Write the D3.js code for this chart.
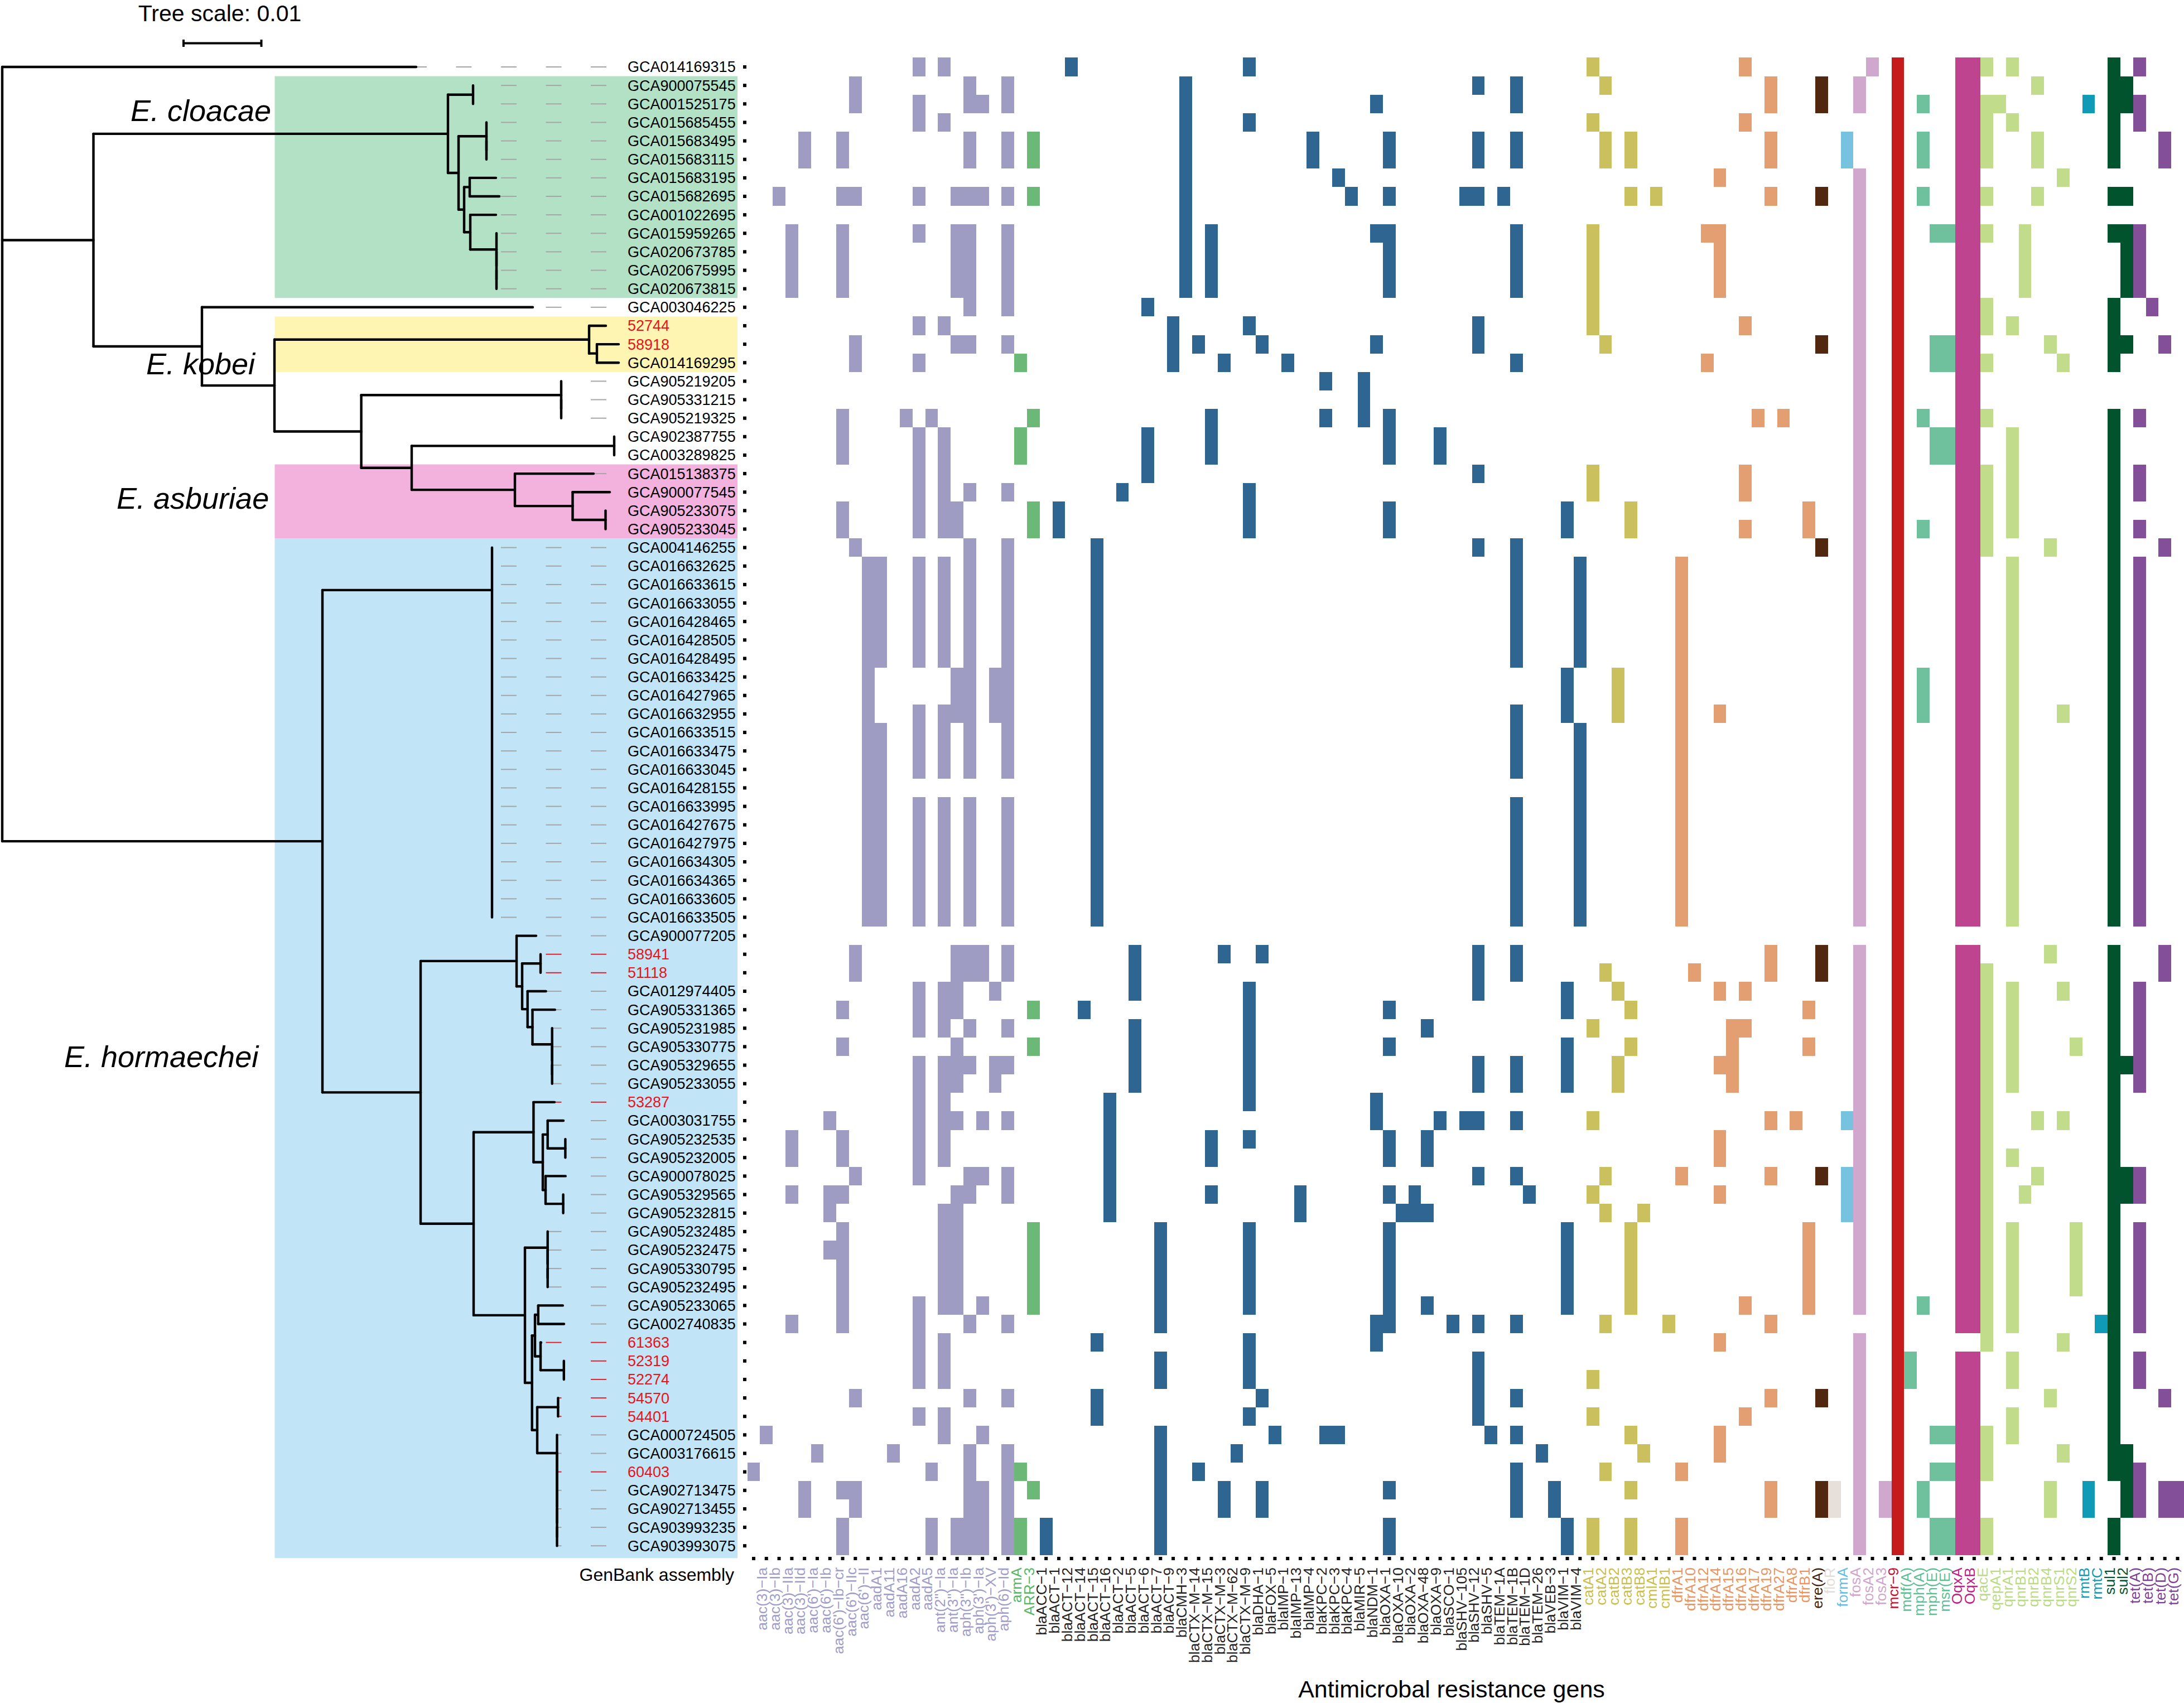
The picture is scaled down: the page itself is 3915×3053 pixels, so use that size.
<!DOCTYPE html>
<html><head><meta charset="utf-8">
<script src="https://cdn.jsdelivr.net/npm/d3@7"></script>
<style>html,body{margin:0;padding:0;background:#fff;overflow:hidden}svg{display:block}text{font-family:"Liberation Sans",Arial,sans-serif}</style>
</head><body><div id="chart"></div>
<script>
// ---------- data ----------
const assemblies = ["GCA014169315","GCA900075545","GCA001525175","GCA015685455","GCA015683495","GCA015683115","GCA015683195","GCA015682695","GCA001022695","GCA015959265","GCA020673785","GCA020675995","GCA020673815","GCA003046225","52744","58918","GCA014169295","GCA905219205","GCA905331215","GCA905219325","GCA902387755","GCA003289825","GCA015138375","GCA900077545","GCA905233075","GCA905233045","GCA004146255","GCA016632625","GCA016633615","GCA016633055","GCA016428465","GCA016428505","GCA016428495","GCA016633425","GCA016427965","GCA016632955","GCA016633515","GCA016633475","GCA016633045","GCA016428155","GCA016633995","GCA016427675","GCA016427975","GCA016634305","GCA016634365","GCA016633605","GCA016633505","GCA900077205","58941","51118","GCA012974405","GCA905331365","GCA905231985","GCA905330775","GCA905329655","GCA905233055","53287","GCA003031755","GCA905232535","GCA905232005","GCA900078025","GCA905329565","GCA905232815","GCA905232485","GCA905232475","GCA905330795","GCA905232495","GCA905233065","GCA002740835","61363","52319","52274","54570","54401","GCA000724505","GCA003176615","60403","GCA902713475","GCA902713455","GCA903993235","GCA903993075"];
const newIsolates = ["52744","58918","58941","51118","53287","61363","52319","52274","54570","54401","60403"];

const M = "\u2212";
const aminoglycosideGenes = ["",`aac(3)${M}Ia`,`aac(3)${M}Ib`,`aac(3)${M}IIa`,`aac(3)${M}IId`,`aac(6')${M}Ia`,`aac(6')${M}Ib`,`aac(6')${M}Ib${M}cr`,`aac(6')${M}IIc`,`aac(6')${M}II`,"aadA1","aadA11","aadA16","aadA2","aadA5",`ant(2'')${M}Ia`,`ant(3'')${M}Ia`,`aph(3'')${M}Ib`,`aph(3')${M}Ia`,`aph(3')${M}XV`,`aph(6)${M}Id`];
const armGenes = ["armA",`ARR${M}3`];
const betaLactamGenes = ["ACC-1","ACT-1","ACT-12","ACT-14","ACT-15","ACT-16","ACT-2","ACT-5","ACT-6","ACT-7","ACT-9","CMH-3","CTX-M-14","CTX-M-15","CTX-M-3","CTX-M-62","CTX-M-9","DHA-1","FOX-5","IMP-1","IMP-13","IMP-4","KPC-2","KPC-3","KPC-4","MIR-5","NDM-1","OXA-1","OXA-10","OXA-2","OXA-48","OXA-9","SCO-1","SHV-105","SHV-12","SHV-5","TEM-1A","TEM-1B","TEM-1D","TEM-26","VEB-3","VIM-1","VIM-4"].map(g => "bla" + g.replace(/-/g, M));
const catGenes = ["catA1","catA2","catB2","catB3","catB8","cmlA1","cmlB1"];
const dfrGenes = ["dfrA1","dfrA10","dfrA12","dfrA14","dfrA15","dfrA16","dfrA17","dfrA19","dfrA27","dfrA8","dfrB1"];
const ereGenes = ["ere(A)"];
const florGenes = ["floR"];
const formGenes = ["formA"];
const fosGenes = ["fosA","fosA2","fosA3"];
const mcrGenes = [`mcr${M}9`];
const macrolideGenes = ["mdf(A)","mph(A)","mph(E)","msr(E)"];
const oqxGenes = ["OqxA","OqxB"];
const qnrGenes = ["qacE","qepA1","qnrA1","qnrB1","qnrB2","qnrB4","qnrS1","qnrS2"];
const rmtGenes = ["rmtB","rmtC"];
const sulGenes = ["sul1","sul2"];
const tetGenes = ["tet(A)","tet(B)","tet(D)","tet(G)"];

const geneFamilies = [
  [aminoglycosideGenes,"#9F9CC3","#A09DCA"],[armGenes,"#6CB977","#57B766"],[betaLactamGenes,"#2F6591","#222222"],
  [catGenes,"#CBC05E","#C9BE4C"],[dfrGenes,"#E39E72","#E8955F"],[ereGenes,"#52270F","#3F1E0A"],
  [florGenes,"#E6DFDA","#E4DDD8"],[formGenes,"#77C2DF","#62BDE0"],[fosGenes,"#D0A8CE","#D0A5CC"],
  [mcrGenes,"#C51B1D","#C8102E"],[macrolideGenes,"#6FC09D","#5CBF94"],[oqxGenes,"#BE4490","#C01F87"],
  [qnrGenes,"#C1DC8A","#BADB84"],[rmtGenes,"#0F9BB5","#0F9BB5"],[sulGenes,"#00532C","#00532C"],[tetGenes,"#844F99","#7D3F98"]
];

// genes detected in each assembly (column numbers, one list per row)
const base = [9,10,13,15,17,20,27,60,65,73,87,90,95,96,99,107,109];
const geneHits = [
[13,15,25,39,66,78,88,90,95,96,97,99,107,109],
[8,17,20,34,57,60,67,80,84,87,90,95,96,101,107,108],
[8,13,17,18,20,34,49,60,80,84,87,90,92,95,96,97,98,105,107,108,109],
[13,15,34,39,66,78,90,95,96,97,99,107,109],
[4,7,17,20,22,34,44,50,57,60,67,69,80,86,90,92,95,96,97,101,107,111],
[4,7,17,20,22,34,44,50,57,60,67,69,80,86,90,92,95,96,97,101,107,111],
[34,46,76,87,90,95,96,103],
[2,7,8,13,16,17,18,20,22,34,47,50,56,57,59,69,71,80,84,87,90,92,95,96,97,101,107,108],
[34,87,90,95,96],
[3,7,13,16,17,20,34,36,49,50,60,66,75,76,87,90,93,94,95,96,97,100,107,108,109],
[3,7,16,17,20,34,36,50,60,66,76,87,90,95,96,100,108,109],
[3,7,16,17,20,34,36,50,60,66,76,87,90,95,96,100,108,109],
[3,7,16,17,20,34,36,50,60,66,76,87,90,95,96,100,108,109],
[17,20,31,66,87,90,95,96,97,107,110],
[13,15,33,39,57,66,78,87,90,95,96,97,99,107],
[8,16,17,20,33,35,40,49,57,67,84,87,90,93,94,95,96,102,107,108,111],
[8,13,21,33,37,42,60,75,87,90,93,94,95,96,97,103,107],
[45,48,87,90,95,96],
[48,87,90,95,96],
[7,12,14,22,36,45,48,50,79,81,87,90,92,95,96,97,107,109],
[7,13,15,21,31,36,50,54,87,90,93,94,95,96,99,107],
[7,13,15,21,31,36,50,54,87,90,93,94,95,96,99,107],
[13,15,31,57,66,78,87,90,95,96,97,99,107,109],
[13,15,17,20,29,39,66,78,87,90,95,96,97,99,107,109],
[7,13,15,16,22,24,39,50,64,69,83,87,90,95,96,97,99,107],
[7,13,15,16,22,24,39,50,64,69,78,83,87,90,92,95,96,97,99,107,109],
[8,17,20,27,57,60,84,87,90,95,96,97,102,107,111],
base,base,base,base,base,base,
[9,16,17,19,20,27,64,68,73,87,90,92,95,96,99,107,109],
[9,16,17,19,20,27,64,68,73,87,90,92,95,96,99,107,109],
[9,13,15,16,17,19,20,27,60,64,68,73,76,87,90,92,95,96,99,103,107,109],
base,base,base,
[9,10,27,65,73,87,90,95,96,99,107,109],
base,base,base,base,base,base,base,
[90],
[8,16,17,18,20,30,37,40,57,60,80,84,87,90,95,96,102,107,111],
[8,16,17,18,20,30,57,60,67,74,80,84,87,90,95,96,97,107,111],
[13,15,16,19,30,39,57,64,68,76,78,87,90,95,96,97,99,103,107,109],
[7,13,15,16,22,26,39,50,64,69,83,87,90,95,96,97,99,107,109],
[13,15,17,20,30,39,53,66,77,78,87,90,95,96,97,99,107,109],
[7,16,22,30,39,50,64,69,77,83,87,90,95,96,97,99,104,107,109],
[13,15,16,17,19,20,30,39,57,60,64,68,76,77,87,90,95,96,97,99,107,108,109],
[13,15,16,19,30,39,57,60,64,68,77,87,90,95,96,97,99,107,109],
[13,15,28,39,49,87,90,95,96,97,107],
[6,13,15,16,18,20,28,49,54,56,57,60,66,80,82,86,87,90,95,96,97,101,103,107],
[3,7,13,15,28,36,39,50,53,76,87,90,95,96,97,107],
[3,7,13,15,28,36,50,53,76,87,90,95,96,97,99,107],
[8,13,17,18,20,28,57,60,67,73,80,84,86,87,90,95,96,97,101,107,108,109],
[3,6,7,16,17,20,28,36,43,50,52,61,66,76,86,87,90,95,96,97,100,107,108,109],
[6,15,16,28,43,51,52,53,67,70,86,87,90,95,96,97,107],
[7,15,16,22,32,39,50,64,69,83,87,90,95,96,97,99,104,107,109],
[6,7,15,16,22,32,39,50,64,69,83,87,90,95,96,97,99,104,107,109],
[7,15,16,22,32,39,50,64,69,83,87,90,95,96,97,99,104,107,109],
[7,15,16,22,32,39,50,64,69,83,87,90,95,96,97,99,104,107,109],
[7,13,15,16,18,22,32,39,50,53,64,69,78,83,87,90,92,95,96,97,99,107,109],
[3,7,13,17,20,32,49,50,55,57,60,67,72,80,90,95,96,97,99,106,107,109],
[13,15,27,39,49,76,87,90,97,103,107],
[13,15,32,39,57,87,90,91,95,96,99,107,109],
[13,15,32,39,57,66,87,90,91,95,96,99,107,109],
[8,17,20,27,40,57,60,80,84,87,90,95,96,102,107,111],
[13,15,27,39,57,66,78,87,90,95,96,99,107],
[1,15,18,32,41,45,46,58,60,69,76,87,90,93,94,95,96,97,99,107],
[5,11,17,20,32,38,62,70,76,87,90,95,96,97,103,107,108],
[0,14,17,20,21,32,35,60,67,73,87,90,93,94,95,96,97,107,108,109],
[4,7,8,17,18,20,22,32,37,40,50,60,63,69,80,84,85,87,89,90,92,95,96,102,105,108,109,111,112],
[4,8,17,18,20,32,37,40,60,63,80,84,85,87,89,90,92,95,96,102,105,108,109,111,112],
[7,14,16,17,18,20,21,23,32,50,64,66,69,73,87,90,93,94,95,96,97,107],
[7,14,16,17,18,20,21,23,32,50,64,66,69,73,87,90,93,94,95,96,97,107]
];

// species clades: name, first row, last row, band colour
const cladeNames = ["E. cloacae","E. kobei","E. asburiae","E. hormaechei"];
const cladeRows = [[1,12],[14,16],[22,25],[26,80]];
const cladeColors = ["#B3E1C6","#FFF5B3","#F3B1DD","#C1E4F7"];

// phylogeny: n(depth, ...children), l(depth, row); depth in 1/13900 substitutions per site
const l = (x, r) => ({x, r});
const n = (x, ...k) => ({x, k});
const ladder = (x, a, b) => a === b ? l(x, a) : n(x, l(x, a), ladder(x, a + 1, b));
const treeData = n(0,
  l(742, 0),
  n(163.5,
    n(799,
      n(844, l(844, 1), l(844, 2)),
      n(818,
        ladder(868, 3, 5),
        n(828,
          n(838, l(885, 6), l(891, 7)),
          n(839, l(885, 8), ladder(886, 9, 12))))),
    n(358,
      l(951, 13),
      n(488,
        n(1052, l(1082, 14), n(1066, l(1105, 15), l(1105, 16))),
        n(643.6,
          ladder(1002, 17, 19),
          n(734,
            n(1097, l(1097, 20), l(1097, 21)),
            n(919,
              l(1060, 22),
              n(1022.5, l(1089, 23), n(1081.5, l(1081.5, 24), l(1081.5, 25))))))))),
  n(574,
    Object.assign(n(878, ...d3.range(26, 47).map(r => l(878, r))), {at: 28.3}),
    n(750,
      n(922,
        l(957, 47),
        n(932,
          n(965, l(965, 48), l(965, 49)),
          n(941.7,
            l(974.6, 50),
            n(950.5,
              l(990.7, 51),
              ladder(985.7, 52, 55))))),
      n(845,
        n(952.4,
          l(990, 56),
          n(969,
            n(977.7, l(1006, 57), n(1009.4, l(1009.4, 58), l(1009.4, 59))),
            n(974, l(1009.8, 60), n(1005.6, l(1005.6, 61), l(1005.6, 62))))),
        n(937,
          ladder(977.7, 63, 66),
          n(949.7,
            n(955,
              n(960.8, l(1004.8, 67), l(1007, 68)),
              n(965, l(966, 69), n(1006.8, l(1006.8, 70), l(1006.8, 71)))),
            n(959,
              n(996.4, l(996.4, 72), l(996.4, 73)),
              ladder(994.5, 74, 80))))))));

const treeScaleValue = "Tree scale: 0.01";
const treeScaleDepths = [325, 464.5];
const dashPhases = [1055, 974.5, 894, 813.5, 733];

// ---------- scales ----------
const W = 3915, H = 3053;
const colStep = 22.79, rowStep = 33.14;
const genes = geneFamilies.flatMap(f => f[0]);
const fillOf = geneFamilies.flatMap(f => f[0].map(() => f[1]));
const textOf = geneFamilies.flatMap(f => f[0].map(() => f[2]));

const xCol = d3.scaleBand().domain(d3.range(genes.length)).range([1351 - colStep / 2, 1351 - colStep / 2 + colStep * genes.length]);
const yRow = d3.scaleBand().domain(d3.range(assemblies.length)).range([120 - rowStep / 2, 120 - rowStep / 2 + rowStep * assemblies.length]);
const yMid = r => yRow(r) + rowStep / 2;
const yPos = d3.scaleLinear().domain([0, 80]).range([yMid(0), yMid(80)]);
const xTree = d3.scaleLinear().domain([0, 1390]).range([4, 1394]);

const svg = d3.select("#chart").append("svg").attr("width", W).attr("height", H).attr("viewBox", `0 0 ${W} ${H}`);
svg.append("rect").attr("width", W).attr("height", H).attr("fill", "#fff");

// clade bands
svg.append("g").selectAll("rect").data(cladeRows).join("rect")
  .attr("x", 492.5).attr("width", 1322 - 492.5)
  .attr("y", d => yRow(d[0]))
  .attr("height", (d, i) => yRow(d[1]) + rowStep - yRow(d[0]) + (i === 3 ? 5.5 : 0))
  .attr("fill", (d, i) => cladeColors[i]);

// tree
const root = d3.hierarchy(treeData, d => d.k);
root.eachAfter(d => {
  if (d.children) {
    d.yy = d.data.at !== undefined ? yPos(d.data.at)
      : (d.children[0].yy + d.children[d.children.length - 1].yy) / 2;
  } else d.yy = yMid(d.data.r);
});

// leaf guide dashes
const dashData = [];
root.leaves().forEach(d => {
  const tip = xTree(d.data.x);
  dashPhases.forEach(p => {
    const a = xTree(p), b = a + 28;
    if (b > tip + 2) dashData.push({x1: Math.max(a, tip), x2: b, y: d.yy, red: newIsolates.includes(assemblies[d.data.r])});
  });
});
svg.append("g").selectAll("line").data(dashData).join("line")
  .attr("x1", d => d.x1).attr("x2", d => d.x2).attr("y1", d => d.y).attr("y2", d => d.y)
  .attr("stroke", d => d.red ? "#E8202A" : "#A5A5A5").attr("stroke-width", 2);

const treeG = svg.append("g").attr("stroke", "#000").attr("stroke-width", 4.4).attr("stroke-linecap", "round").attr("fill", "none");
treeG.selectAll("line.h").data(root.descendants().filter(d => d.parent && d.parent.data.x !== d.data.x)).join("line").attr("class", "h")
  .attr("x1", d => xTree(d.parent.data.x)).attr("x2", d => xTree(d.data.x)).attr("y1", d => d.yy).attr("y2", d => d.yy);
treeG.selectAll("line.v").data(root.descendants().filter(d => d.children)).join("line").attr("class", "v")
  .attr("x1", d => xTree(d.data.x)).attr("x2", d => xTree(d.data.x))
  .attr("y1", d => d.children[0].yy).attr("y2", d => d.children[d.children.length - 1].yy);

// species names
const cladeLabelPos = [[234, 217], [262, 671], [209, 912], [115, 1913]];
svg.append("g").selectAll("text").data(cladeNames).join("text")
  .attr("x", (d, i) => cladeLabelPos[i][0]).attr("y", (d, i) => cladeLabelPos[i][1])
  .attr("font-size", 54).attr("font-style", "italic").attr("fill", "#000").text(d => d);

// row labels and dots
svg.append("g").selectAll("text").data(assemblies).join("text")
  .attr("x", 1125).attr("y", (d, i) => yMid(i)).attr("dy", "0.35em")
  .attr("font-size", 27).attr("fill", d => newIsolates.includes(d) ? "#E8141C" : "#000").text(d => d);
svg.append("g").selectAll("rect").data(assemblies).join("rect")
  .attr("x", 1332).attr("width", 6).attr("height", 6).attr("y", (d, i) => yMid(i) - 3).attr("fill", "#000");

// heat-map cells
const cells = geneHits.flatMap((cols, r) => cols.map(c => ({r, c})));
svg.append("g").selectAll("rect").data(cells).join("rect")
  .attr("x", d => xCol(d.c)).attr("y", d => yRow(d.r))
  .attr("width", xCol.bandwidth()).attr("height", yRow.bandwidth())
  .attr("fill", d => fillOf[d.c]).attr("shape-rendering", "crispEdges");

// bottom dots and gene labels
svg.append("g").selectAll("rect").data(genes).join("rect")
  .attr("x", (d, i) => xCol(i) + colStep / 2 - 3).attr("y", 2791).attr("width", 6).attr("height", 6).attr("fill", "#000");
svg.append("g").selectAll("text").data(genes).join("text")
  .attr("transform", (d, i) => `translate(${xCol(i) + colStep / 2 - 8},2810) rotate(-90)`)
  .attr("dy", "0.35em").attr("text-anchor", "end").attr("font-size", 26.5)
  .attr("fill", (d, i) => textOf[i]).text(d => d);

svg.append("text").attr("x", 1316).attr("y", 2834).attr("text-anchor", "end").attr("font-size", 32).attr("fill", "#000").text("GenBank assembly");
svg.append("text").attr("x", 2602).attr("y", 3043).attr("text-anchor", "middle").attr("font-size", 43).attr("fill", "#000").text("Antimicrobal resistance gens");

// tree scale
svg.append("text").attr("x", 394).attr("y", 38).attr("text-anchor", "middle").attr("font-size", 41).attr("fill", "#000").text(treeScaleValue);
const sb = svg.append("g").attr("stroke", "#000").attr("stroke-width", 4);
sb.append("line").attr("x1", xTree(treeScaleDepths[0])).attr("x2", xTree(treeScaleDepths[1])).attr("y1", 77.5).attr("y2", 77.5);
sb.selectAll("line.t").data(treeScaleDepths).join("line").attr("class", "t")
  .attr("x1", d => xTree(d)).attr("x2", d => xTree(d)).attr("y1", 71).attr("y2", 84);
</script></body></html>
